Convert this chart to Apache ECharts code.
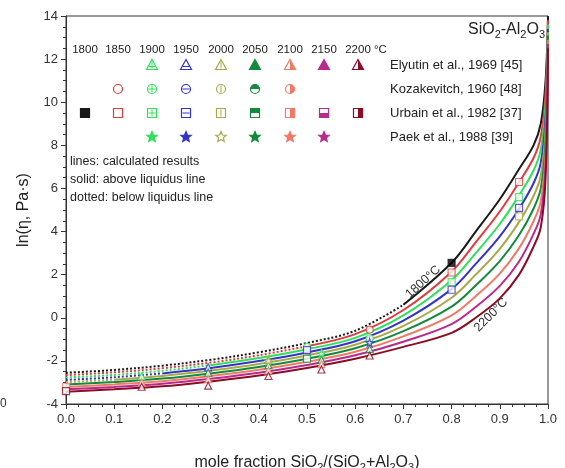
<!DOCTYPE html>
<html>
<head>
<meta charset="utf-8">
<script src="https://cdn.jsdelivr.net/npm/echarts@6/dist/echarts.min.js"></script>
<style>
  html, body { margin: 0; padding: 0; background: #fff; }
  #chart { width: 565px; height: 468px; }
</style>
</head>
<body>
<div id="chart"></div>
<script>
// temperatures of the calculated curves (°C)
const temps = [1800, 1850, 1900, 1950, 2000, 2050, 2100, 2150, 2200];
const tempColors = ['#1a1a1a', '#e03c3c', '#2fe05a', '#3434c8', '#a9a94c', '#128a3c', '#f07a66', '#b82a8c', '#8c0c24'];

// composition grid, mole fraction SiO2
const xGrid = [0, 0.1, 0.2, 0.3, 0.4, 0.5, 0.6, 0.7, 0.8, 0.85, 0.9, 0.94, 0.97, 0.985, 0.995, 1.0];

// ln(viscosity)
const ln1800 = [-2.55, -2.42, -2.22, -1.95, -1.60, -1.17, -0.60, 0.60, 2.55, 4.00, 5.50, 6.90, 8.00, 9.00, 11.0, 14.0];
const ln1850 = [-2.66, -2.53, -2.34, -2.08, -1.74, -1.32, -0.76, 0.36, 2.14, 3.50, 4.93, 6.29, 7.41, 8.40, 10.4, 13.8];
const ln1900 = [-2.77, -2.65, -2.46, -2.20, -1.87, -1.46, -0.93, 0.11, 1.74, 3.00, 4.35, 5.68, 6.83, 7.80, 9.90, 13.6];
const ln1950 = [-2.88, -2.76, -2.58, -2.33, -2.01, -1.61, -1.09, -0.13, 1.33, 2.50, 3.78, 5.06, 6.24, 7.20, 9.30, 13.4];
const ln2000 = [-2.99, -2.87, -2.70, -2.45, -2.14, -1.75, -1.25, -0.38, 0.93, 2.00, 3.20, 4.45, 5.65, 6.60, 8.75, 13.25];
const ln2050 = [-3.10, -2.98, -2.82, -2.58, -2.28, -1.90, -1.41, -0.62, 0.52, 1.50, 2.63, 3.84, 5.06, 6.00, 8.20, 13.1];
const ln2100 = [-3.21, -3.09, -2.94, -2.70, -2.41, -2.04, -1.58, -0.86, 0.11, 1.00, 2.05, 3.23, 4.48, 5.40, 7.60, 12.9];
const ln2150 = [-3.32, -3.21, -3.06, -2.83, -2.55, -2.19, -1.74, -1.11, -0.29, 0.50, 1.48, 2.61, 3.89, 4.80, 7.05, 12.7];
const ln2200 = [-3.43, -3.32, -3.18, -2.95, -2.68, -2.33, -1.90, -1.35, -0.70, 0.00, 0.90, 2.00, 3.30, 4.20, 6.50, 12.5];
const curves = [ln1800, ln1850, ln1900, ln1950, ln2000, ln2050, ln2100, ln2150, ln2200];

// below liquidus (dotted) up to this composition
const dottedUntil = [0.7, 0.5, 0.3, 0.2, 0.1, 0, 0, 0, 0];

// experimental points
const elyutinX = [0.157, 0.157, 0.157, 0.295, 0.295, 0.295, 0.295, 0.42, 0.42, 0.42, 0.42, 0.53, 0.53, 0.53, 0.63, 0.63];
const elyutinY = [-2.72, -3.00, -3.20, -2.30, -2.55, -2.85, -3.15, -1.95, -2.20, -2.45, -2.70, -1.95, -2.15, -2.40, -1.45, -1.75];
const elyutinT = [1900, 2100, 2200, 1950, 2050, 2100, 2200, 1900, 2050, 2100, 2200, 2050, 2100, 2200, 2050, 2200];

const kozakX = [0.63, 0.63, 0.5];
const kozakY = [-0.55, -0.95, -1.35];
const kozakT = [1850, 1900, 1900];

const urbainX = [0.0, 0.0, 0.5, 0.5, 0.8, 0.8, 0.8, 0.8, 0.94, 0.94, 0.94, 0.94];
const urbainY = [-3.2, -3.4, -1.5, -1.9, 2.55, 2.1, 1.65, 1.3, 6.3, 5.6, 5.1, 4.7];
const urbainT = [2100, 2200, 1950, 2050, 1800, 1850, 1900, 1950, 1850, 1900, 1950, 2000];

const paekX = [0.53, 0.63, 0.42];
const paekY = [-1.65, -1.15, -2.0];
const paekT = [1900, 1950, 2000];

// legend table
const legendNames = ['Elyutin et al., 1969 [45]', 'Kozakevitch, 1960 [48]', 'Urbain et al., 1982 [37]', 'Paek et al., 1988 [39]'];
const legendShapes = ['triangle', 'circle', 'rect', 'star'];
const legendTemps = [
  [1900, 1950, 2000, 2050, 2100, 2150, 2200],
  [1850, 1900, 1950, 2000, 2050, 2100],
  [1800, 1850, 1900, 1950, 2000, 2050, 2100, 2150, 2200],
  [1900, 1950, 2000, 2050, 2100, 2150]
];
const legendStyles = [
  ['plus', 'hline', 'vline', 'fill', 'right', 'fill', 'right'],
  ['open', 'plus', 'hline', 'vline', 'top', 'right'],
  ['fill', 'open', 'plus', 'hline', 'vline', 'top', 'right', 'bottom', 'right'],
  ['fill', 'fill', 'open', 'fill', 'fill', 'fill']
];

const FONT = '"Liberation Sans", Arial, sans-serif';
const STAR = 'path://M50,0 L61,35 L98,35 L68,57 L79,91 L50,70 L21,91 L32,57 L2,35 L39,35 Z';

const colorOf = (t) => tempColors[temps.indexOf(t)];

const chart = echarts.init(document.getElementById('chart'));

// ---- curves
const series = [];
temps.forEach((t, i) => {
  const pts = xGrid.map((x, j) => [x, curves[i][j]]);
  const cut = dottedUntil[i];
  if (cut > 0) {
    series.push({
      type: 'line', name: t + ' dotted', data: pts.filter(p => p[0] <= cut),
      smooth: 0.35, symbol: 'none', silent: true, z: 2,
      lineStyle: { color: tempColors[i], width: 2, type: 'dotted' }
    });
  }
  series.push({
    type: 'line', name: t + '', data: pts.filter(p => p[0] >= cut),
    smooth: 0.35, symbol: 'none', silent: true, z: 2,
    lineStyle: { color: tempColors[i], width: 2 }
  });
});

// ---- experimental markers
function pointSeries(xs, ys, ts, symbol, size) {
  return {
    type: 'scatter', symbol: symbol, symbolSize: size, z: 4, silent: true,
    data: xs.map((x, k) => ({
      value: [x, ys[k]],
      itemStyle: { color: ts[k] === 1800 ? '#000' : '#fff', borderColor: colorOf(ts[k]), borderWidth: 1.2 }
    }))
  };
}
series.push(pointSeries(elyutinX, elyutinY, elyutinT, 'triangle', 7));
series.push(pointSeries(kozakX, kozakY, kozakT, 'circle', 7));
series.push(pointSeries(urbainX, urbainY, urbainT, 'rect', 7));
series.push(pointSeries(paekX, paekY, paekT, STAR, 8));

// ---- legend symbols drawn as graphics
function starPoints(cx, cy, r) {
  const p = [];
  for (let k = 0; k < 10; k++) {
    const a = -Math.PI / 2 + k * Math.PI / 5;
    const rr = k % 2 === 0 ? r : r * 0.45;
    p.push([cx + rr * Math.cos(a), cy + rr * Math.sin(a)]);
  }
  return p;
}

function legendSymbol(shape, style, color, cx, cy) {
  const s = 4.5;
  const els = [];
  const st = { fill: style === 'fill' ? color : '#fff', stroke: color, lineWidth: 1.2 };
  if (shape === 'rect') {
    els.push({ type: 'rect', shape: { x: cx - s, y: cy - s, width: 2 * s, height: 2 * s }, style: st });
    if (style === 'top') els.push({ type: 'rect', shape: { x: cx - s, y: cy - s, width: 2 * s, height: s }, style: { fill: color } });
    if (style === 'bottom') els.push({ type: 'rect', shape: { x: cx - s, y: cy, width: 2 * s, height: s }, style: { fill: color } });
    if (style === 'right') els.push({ type: 'rect', shape: { x: cx, y: cy - s, width: s, height: 2 * s }, style: { fill: color } });
  } else if (shape === 'circle') {
    els.push({ type: 'circle', shape: { cx: cx, cy: cy, r: s }, style: st });
    if (style === 'top') els.push({ type: 'sector', shape: { cx: cx, cy: cy, r: s, startAngle: Math.PI, endAngle: 2 * Math.PI }, style: { fill: color } });
    if (style === 'right') els.push({ type: 'sector', shape: { cx: cx, cy: cy, r: s, startAngle: -Math.PI / 2, endAngle: Math.PI / 2 }, style: { fill: color } });
  } else if (shape === 'triangle') {
    els.push({ type: 'polygon', shape: { points: [[cx, cy - s - 1], [cx + s + 1, cy + s], [cx - s - 1, cy + s]] }, style: st });
    if (style === 'right') els.push({ type: 'polygon', shape: { points: [[cx, cy - s - 1], [cx + s + 1, cy + s], [cx, cy + s]] }, style: { fill: color } });
  } else {
    els.push({ type: 'polygon', shape: { points: starPoints(cx, cy, s + 1) }, style: st });
  }
  const ln = { stroke: color, lineWidth: 1 };
  if (style === 'plus' || style === 'hline') els.push({ type: 'line', shape: { x1: cx - s + 1, y1: cy + (shape === 'triangle' ? 1.5 : 0), x2: cx + s - 1, y2: cy + (shape === 'triangle' ? 1.5 : 0) }, style: ln });
  if (style === 'plus' || style === 'vline') els.push({ type: 'line', shape: { x1: cx, y1: cy - s + 1, x2: cx, y2: cy + s - 1 }, style: ln });
  return els;
}

const colX = [85, 118, 152, 186, 221, 255, 290, 324, 358];
const rowY = [65, 89, 113, 137];
const graphics = [];

// header temperatures
temps.forEach((t, i) => {
  graphics.push({ type: 'text', x: colX[i], y: 50, style: { text: t + '', font: '11.5px ' + FONT, fill: '#222', align: 'center', verticalAlign: 'middle' } });
});
graphics.push({ type: 'text', x: 374, y: 50, style: { text: '°C', font: '11.5px ' + FONT, fill: '#222', align: 'left', verticalAlign: 'middle' } });

legendNames.forEach((name, r) => {
  legendTemps[r].forEach((t, k) => {
    const col = temps.indexOf(t);
    legendSymbol(legendShapes[r], legendStyles[r][k], colorOf(t), colX[col], rowY[r]).forEach(e => graphics.push(e));
  });
  graphics.push({ type: 'text', x: 390, y: rowY[r], style: { text: name, font: '13px ' + FONT, fill: '#222', align: 'left', verticalAlign: 'middle' } });
});

['lines: calculated results', 'solid: above liquidus line', 'dotted: below liquidus line'].forEach((s, k) => {
  graphics.push({ type: 'text', x: 70, y: 162 + k * 18, style: { text: s, font: '12.5px ' + FONT, fill: '#222', align: 'left', verticalAlign: 'middle' } });
});

// system title
graphics.push({
  type: 'text', x: 545, y: 30,
  style: {
    text: '{a|SiO}{s|2}{a|-Al}{s|2}{a|O}{s|3}', align: 'right', verticalAlign: 'middle',
    rich: {
      a: { fontSize: 16, fontFamily: FONT, fill: '#222', lineHeight: 20 },
      s: { fontSize: 11, fontFamily: FONT, fill: '#222', lineHeight: 20, padding: [9, 0, 0, 0] }
    }
  }
});

// temperature labels along the curves
graphics.push({ type: 'text', x: 423, y: 282, rotation: 42 * Math.PI / 180, style: { text: '1800°C', font: '12.5px ' + FONT, fill: '#333', align: 'center', verticalAlign: 'middle' } });
graphics.push({ type: 'text', x: 491, y: 315, rotation: 45 * Math.PI / 180, style: { text: '2200°C', font: '12.5px ' + FONT, fill: '#333', align: 'center', verticalAlign: 'middle' } });

// stray character at left edge of the source figure
graphics.push({ type: 'text', x: 0, y: 404, style: { text: '0', font: '12px ' + FONT, fill: '#333', align: 'left', verticalAlign: 'middle' } });

chart.setOption({
  backgroundColor: '#fff',
  animation: false,
  grid: {
    left: 66, right: 17, top: 16, bottom: 64,
    show: true, borderColor: '#333', borderWidth: 1,
    containLabel: false, outerBoundsMode: 'none'
  },
  xAxis: {
    type: 'value', min: 0, max: 1, interval: 0.1,
    name: 'mole fraction SiO{s|2}/(SiO{s|2}+Al{s|2}O{s|3})',
    nameLocation: 'middle', nameGap: 49,
    nameTextStyle: {
      fontSize: 16, fontFamily: FONT, color: '#222',
      rich: { s: { fontSize: 11, fontFamily: FONT, color: '#222', padding: [9, 0, 0, 0] } }
    },
    axisLine: { onZero: false, lineStyle: { color: '#333', width: 1 } },
    axisTick: { length: 5, lineStyle: { color: '#333' } },
    minorTick: { show: true, splitNumber: 4, length: 3, lineStyle: { color: '#333' } },
    splitLine: { show: false },
    axisLabel: { fontSize: 13, fontFamily: FONT, color: '#333', margin: 9, formatter: v => v.toFixed(1) }
  },
  yAxis: {
    type: 'value', min: -4, max: 14, interval: 2,
    name: 'ln(η, Pa·s)', nameLocation: 'middle', nameGap: 34,
    nameTextStyle: { fontSize: 16, fontFamily: FONT, color: '#222' },
    axisLine: { show: true, onZero: false, lineStyle: { color: '#333', width: 1 } },
    axisTick: { show: true, length: 5, lineStyle: { color: '#333' } },
    minorTick: { show: true, splitNumber: 4, length: 3, lineStyle: { color: '#333' } },
    splitLine: { show: false },
    axisLabel: { fontSize: 13, fontFamily: FONT, color: '#333', margin: 8 }
  },
  graphic: graphics,
  series: series
});
</script>
</body>
</html>
